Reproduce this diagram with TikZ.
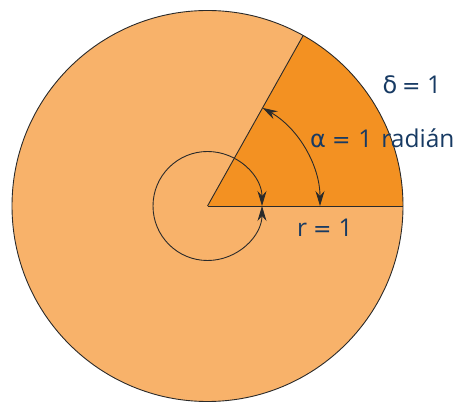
\documentclass[tikz,border=0pt]{standalone}
\usepackage{fontspec}
\setmainfont{Open Sans}
\newfontfamily\symf{DejaVu Sans}
\usetikzlibrary{arrows.meta,calc}
\definecolor{lightor}{HTML}{F8B26A}
\definecolor{darkor}{HTML}{F39122}
\definecolor{navy}{HTML}{173A63}
\definecolor{edge}{HTML}{2A2A2A}
\newcommand{\eqs}{{\symf\fontsize{22}{26}\selectfont =}}
\newcommand{\gr}[1]{{\symf\fontsize{24}{28}\selectfont #1}}
\begin{document}
\begin{tikzpicture}[x=1pt,y=1pt,
  edgeline/.style={draw=edge,line width=0.9pt},
  tips/.style={{Stealth[length=15pt,width=9pt,inset=5pt]}-{Stealth[length=15pt,width=9pt,inset=5pt]}},
  lbl/.style={text=navy,font=\fontsize{24.5}{28}\selectfont,inner sep=0pt,anchor=base west}]
\useasboundingbox (0,0) rectangle (462,404);
\coordinate (C) at (207.5,198);
\def\R{195.5}
\def\A{60.7}
\fill[lightor] (C) circle (\R);
\fill[darkor] (C) -- ++(0:\R) arc (0:\A:\R) -- cycle;
\draw[edgeline] (C) circle (\R);
\draw[edgeline] (C) -- ++(0:\R) coordinate (E0);
\draw[edgeline] (C) -- ++(\A:\R) coordinate (E1);
% full turn
\draw[edgeline,tips] ($(C)+(0:54.5)$) arc (0:360:54.5);
% one radian
\draw[edgeline,tips] ($(C)+(0:112.5)$) arc (0:\A:112.5);
\node[lbl] (delta) at (382.3,310.7) {\gr{δ}\hspace{5pt}\eqs\hspace{6.5pt}1};
\node[lbl] (alpha) at (310,256.3) {\gr{α}\hspace{6pt}\eqs\hspace{8pt}1\hspace{9pt}radián};
\node[lbl] (r) at (297,167.3) {r\hspace{6pt}\eqs\hspace{7pt}1};
\end{tikzpicture}
\end{document}
